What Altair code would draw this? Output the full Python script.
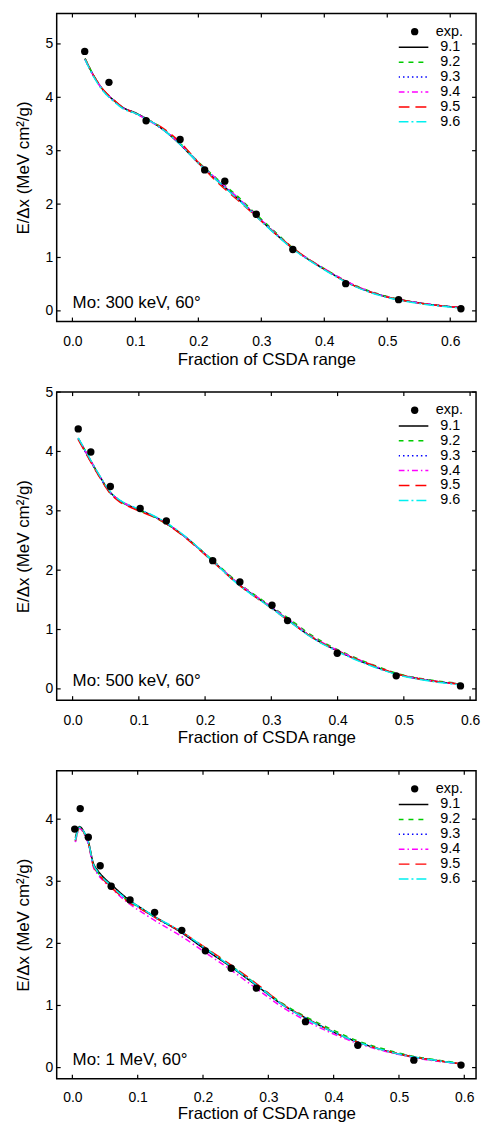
import altair as alt
import pandas as pd

FONT = "Liberation Sans"
SERIES = ["9.1", "9.2", "9.3", "9.4", "9.5", "9.6"]
COLORS = ["#000000", "#00cc00", "#0000ff", "#ff00ff", "#ff0000", "#00f0f0"]
DASHES = [[1, 0], [5, 5], [1.5, 3], [6, 3, 1.5, 3], [11, 6], [10, 3, 2, 3]]
XTICKS = [0.0, 0.1, 0.2, 0.3, 0.4, 0.5, 0.6]

# ---- Panel 1: Mo 300 keV ----
p1_px = [0.0195, 0.058, 0.117, 0.171, 0.210, 0.242, 0.292, 0.350, 0.434, 0.518, 0.617]
p1_py = [4.86, 4.28, 3.56, 3.21, 2.64, 2.43, 1.81, 1.15, 0.51, 0.21, 0.04]
p1_cx = [0.020, 0.035, 0.050, 0.065, 0.080, 0.100, 0.117, 0.140, 0.170, 0.200, 0.230, 0.260, 0.290, 0.320, 0.350, 0.400, 0.450, 0.500, 0.550, 0.617]
p1_91 = [4.72, 4.38, 4.12, 3.95, 3.81, 3.71, 3.60, 3.43, 3.13, 2.77, 2.44, 2.13, 1.80, 1.47, 1.17, 0.78, 0.46, 0.26, 0.15, 0.06]
p1_92 = [4.73, 4.38, 4.12, 3.95, 3.80, 3.70, 3.60, 3.44, 3.15, 2.79, 2.47, 2.17, 1.83, 1.50, 1.18, 0.79, 0.47, 0.27, 0.15, 0.06]
p1_93 = [4.72, 4.37, 4.11, 3.94, 3.80, 3.70, 3.60, 3.43, 3.14, 2.78, 2.45, 2.14, 1.81, 1.48, 1.17, 0.78, 0.46, 0.26, 0.15, 0.06]
p1_94 = [4.71, 4.37, 4.12, 3.95, 3.81, 3.70, 3.59, 3.43, 3.14, 2.78, 2.46, 2.15, 1.81, 1.48, 1.17, 0.79, 0.47, 0.26, 0.15, 0.06]
p1_95 = [4.72, 4.38, 4.13, 3.96, 3.81, 3.70, 3.60, 3.45, 3.17, 2.78, 2.41, 2.10, 1.79, 1.47, 1.18, 0.78, 0.46, 0.26, 0.15, 0.06]
p1_96 = [4.71, 4.36, 4.10, 3.93, 3.79, 3.70, 3.60, 3.43, 3.13, 2.77, 2.44, 2.12, 1.79, 1.46, 1.16, 0.77, 0.45, 0.25, 0.14, 0.05]

# ---- Panel 2: Mo 500 keV ----
p2_px = [0.0085, 0.0275, 0.057, 0.102, 0.1415, 0.2115, 0.2525, 0.301, 0.3245, 0.3995, 0.4885, 0.5855]
p2_py = [4.38, 3.99, 3.41, 3.04, 2.83, 2.16, 1.80, 1.41, 1.15, 0.60, 0.22, 0.05]
p2_cx = [0.0085, 0.020, 0.030, 0.040, 0.057, 0.070, 0.085, 0.102, 0.120, 0.1415, 0.170, 0.210, 0.250, 0.300, 0.3245, 0.360, 0.400, 0.450, 0.490, 0.540, 0.5855]
p2_91 = [4.22, 3.99, 3.79, 3.60, 3.31, 3.18, 3.09, 3.01, 2.92, 2.79, 2.56, 2.17, 1.77, 1.37, 1.17, 0.88, 0.64, 0.40, 0.25, 0.14, 0.08]
p2_92 = [4.22, 3.99, 3.78, 3.59, 3.30, 3.17, 3.08, 3.00, 2.91, 2.78, 2.56, 2.18, 1.79, 1.39, 1.20, 0.91, 0.66, 0.42, 0.26, 0.15, 0.09]
p2_93 = [4.21, 3.98, 3.78, 3.59, 3.30, 3.18, 3.09, 3.01, 2.92, 2.79, 2.56, 2.17, 1.77, 1.37, 1.17, 0.88, 0.64, 0.40, 0.25, 0.14, 0.08]
p2_94 = [4.22, 3.99, 3.79, 3.60, 3.31, 3.18, 3.09, 3.01, 2.92, 2.79, 2.56, 2.17, 1.78, 1.38, 1.18, 0.89, 0.65, 0.41, 0.25, 0.14, 0.08]
p2_95 = [4.20, 3.97, 3.77, 3.58, 3.29, 3.16, 3.07, 2.99, 2.91, 2.78, 2.55, 2.16, 1.76, 1.36, 1.16, 0.88, 0.64, 0.41, 0.25, 0.14, 0.08]
p2_96 = [4.23, 4.00, 3.80, 3.61, 3.32, 3.19, 3.10, 3.02, 2.93, 2.80, 2.57, 2.17, 1.76, 1.36, 1.16, 0.87, 0.63, 0.39, 0.24, 0.13, 0.07]

# ---- Panel 3: Mo 1 MeV ----
p3_px = [0.0036, 0.012, 0.0244, 0.0426, 0.0594, 0.0883, 0.1259, 0.1675, 0.2036, 0.2431, 0.2817, 0.3569, 0.437, 0.5228, 0.595]
p3_py = [3.84, 4.17, 3.71, 3.25, 2.92, 2.70, 2.50, 2.21, 1.88, 1.60, 1.28, 0.74, 0.36, 0.12, 0.04]
p3_cx = [0.0046, 0.011, 0.019, 0.025, 0.0315, 0.039, 0.049, 0.0594, 0.075, 0.088, 0.105, 0.126, 0.1675, 0.2036, 0.243, 0.282, 0.3234, 0.357, 0.400, 0.437, 0.480, 0.523, 0.560, 0.595]
p3_91 = [3.70, 3.88, 3.77, 3.62, 3.31, 3.17, 3.05, 2.95, 2.80, 2.69, 2.57, 2.43, 2.17, 1.90, 1.62, 1.32, 1.00, 0.80, 0.57, 0.41, 0.27, 0.17, 0.11, 0.06]
p3_92 = [3.66, 3.86, 3.76, 3.60, 3.28, 3.14, 3.02, 2.92, 2.77, 2.67, 2.56, 2.42, 2.18, 1.92, 1.64, 1.34, 1.02, 0.82, 0.60, 0.43, 0.29, 0.18, 0.12, 0.07]
p3_93 = [3.64, 3.86, 3.75, 3.59, 3.27, 3.13, 3.01, 2.91, 2.77, 2.67, 2.56, 2.42, 2.17, 1.91, 1.63, 1.33, 1.00, 0.80, 0.57, 0.41, 0.27, 0.17, 0.11, 0.06]
p3_94 = [3.63, 3.85, 3.74, 3.58, 3.25, 3.11, 2.99, 2.89, 2.74, 2.63, 2.51, 2.37, 2.11, 1.85, 1.57, 1.27, 0.96, 0.76, 0.54, 0.39, 0.26, 0.16, 0.10, 0.06]
p3_95 = [3.65, 3.86, 3.76, 3.60, 3.27, 3.13, 3.01, 2.90, 2.76, 2.65, 2.55, 2.42, 2.18, 1.93, 1.65, 1.35, 1.01, 0.80, 0.57, 0.41, 0.27, 0.17, 0.11, 0.06]
p3_96 = [3.66, 3.87, 3.77, 3.61, 3.29, 3.15, 3.03, 2.93, 2.78, 2.68, 2.57, 2.43, 2.19, 1.92, 1.63, 1.33, 1.00, 0.79, 0.57, 0.41, 0.27, 0.17, 0.11, 0.06]

W, H = 422, 310


def panel(cx, ylists, px, py, xdom, ydom, yticks, label, lab_pad=13, tit_pad=3):
    rows = []
    for s, yy in zip(SERIES, ylists):
        for x, y in zip(cx, yy):
            rows.append({"x": x, "y": y, "series": s})
    lines_df = pd.DataFrame(rows)
    pts_df = pd.DataFrame({"x": px, "y": py, "kind": ["exp."] * len(px)})

    xs = alt.Scale(domain=xdom, nice=False, zero=False)
    ysc = alt.Scale(domain=ydom, nice=False, zero=False)
    xenc = alt.X("x:Q", scale=xs, axis=alt.Axis(
        values=XTICKS, format=".1f", title="Fraction of CSDA range",
        ticks=False, tickSize=0, domain=False, grid=False,
        labelPadding=lab_pad, titlePadding=tit_pad))
    yenc = alt.Y("y:Q", scale=ysc, axis=alt.Axis(
        values=yticks, format="d", title="E/\u0394x (MeV cm\u00b2/g)",
        ticks=False, tickSize=0, domain=False, grid=False,
        labelPadding=4, titlePadding=13))

    line_legend = alt.Legend(
        title=None, orient="none", legendX=344, legendY=27,
        symbolType="stroke", symbolSize=900, symbolStrokeWidth=1.5,
        symbolOffset=-1, labelOffset=11, clipHeight=14, rowPadding=0,
        padding=0, labelFontSize=14.5, labelFont=FONT, labelColor="black")
    lines = alt.Chart(lines_df).mark_line(strokeWidth=1.5, interpolate="monotone").encode(
        x=xenc, y=yenc,
        color=alt.Color("series:N", scale=alt.Scale(domain=SERIES, range=COLORS), legend=line_legend),
        strokeDash=alt.StrokeDash("series:N", scale=alt.Scale(domain=SERIES, range=DASHES), legend=line_legend),
    )
    pt_legend = alt.Legend(
        title=None, orient="none", legendX=344, legendY=11,
        symbolSize=55, symbolFillColor="black", symbolStrokeColor="black",
        symbolStrokeWidth=0, symbolOffset=9, labelOffset=14, rowPadding=0,
        padding=0, labelFontSize=14.5, labelFont=FONT, labelColor="black")
    pts = alt.Chart(pts_df).mark_point(filled=True, color="black", size=55, opacity=1).encode(
        x=alt.X("x:Q", scale=xs), y=alt.Y("y:Q", scale=ysc),
        shape=alt.Shape("kind:N", scale=alt.Scale(domain=["exp."], range=["circle"]), legend=pt_legend),
    )

    yt = pd.DataFrame({"y": yticks})
    xt = pd.DataFrame({"x": XTICKS})
    tk = dict(color="black", strokeWidth=1.2)
    tl = alt.Chart(yt).mark_rule(**tk).encode(y=alt.Y("y:Q", scale=ysc), x=alt.value(0), x2=alt.value(4))
    tr = alt.Chart(yt).mark_rule(**tk).encode(y=alt.Y("y:Q", scale=ysc), x=alt.value(W - 4), x2=alt.value(W))
    tb = alt.Chart(xt).mark_rule(**tk).encode(x=alt.X("x:Q", scale=xs), y=alt.value(H - 4), y2=alt.value(H))
    tt = alt.Chart(xt).mark_rule(**tk).encode(x=alt.X("x:Q", scale=xs), y=alt.value(0), y2=alt.value(4))

    txt = alt.Chart(pd.DataFrame({"t": [label]})).mark_text(
        align="left", baseline="alphabetic", fontSize=17, font=FONT, color="black"
    ).encode(text="t:N", x=alt.value(16), y=alt.value(H - 14))

    return alt.layer(lines, pts, tl, tr, tb, tt, txt).properties(width=W, height=H)


c1 = panel(p1_cx, [p1_91, p1_92, p1_93, p1_94, p1_95, p1_96], p1_px, p1_py,
           [-0.025, 0.641], [-0.2, 5.57], [0, 1, 2, 3, 4, 5], "Mo: 300 keV, 60\u00b0")
c2 = panel(p2_cx, [p2_91, p2_92, p2_93, p2_94, p2_95, p2_96], p2_px, p2_py,
           [-0.024, 0.609], [-0.19, 5.0], [0, 1, 2, 3, 4, 5], "Mo: 500 keV, 60\u00b0")
c3 = panel(p3_cx, [p3_91, p3_92, p3_93, p3_94, p3_95, p3_96], p3_px, p3_py,
           [-0.024, 0.618], [-0.18, 4.78], [0, 1, 2, 3, 4], "Mo: 1 MeV, 60\u00b0",
           lab_pad=12, tit_pad=1)

chart = alt.vconcat(c1, c2, c3, spacing=71, bounds="flush",
                    padding={"left": 5, "top": 0, "right": 2, "bottom": 0}).resolve_scale(
    x="independent", y="independent", color="independent",
    strokeDash="independent", shape="independent"
).resolve_legend(color="independent", strokeDash="independent", shape="independent"
).configure_view(stroke="black", strokeWidth=1.5
).configure_axis(
    labelFont=FONT, titleFont=FONT, labelFontSize=14, titleFontSize=17,
    labelColor="black", titleColor="black", titleFontWeight="normal"
)

chart.save("out.html", embed_options={"renderer": "svg", "actions": False})
